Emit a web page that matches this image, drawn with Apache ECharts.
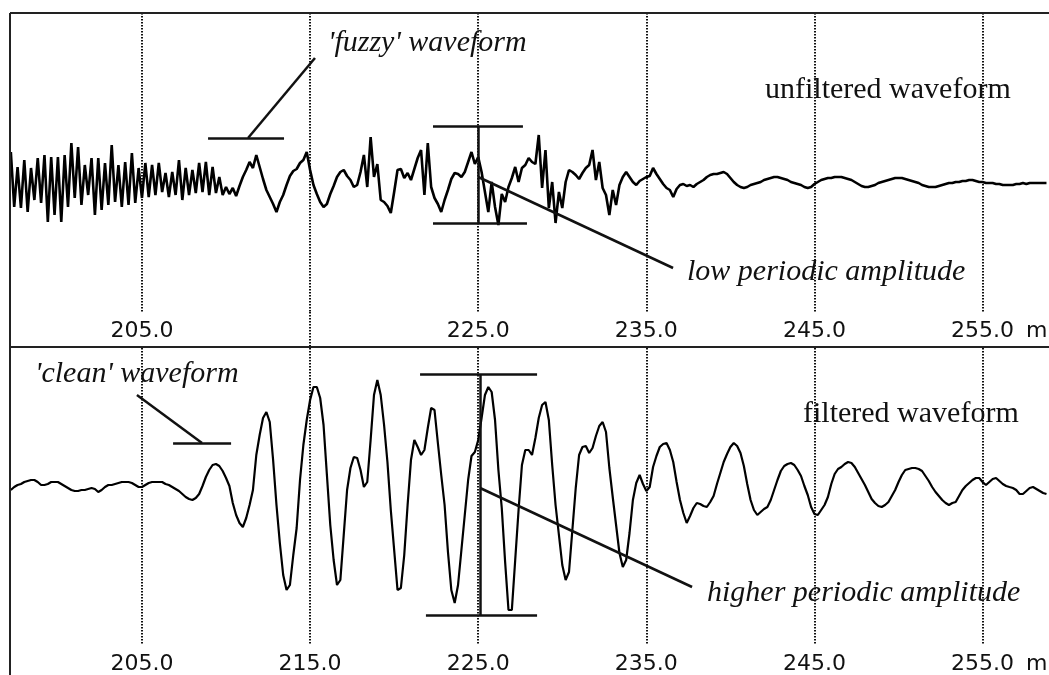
<!DOCTYPE html>
<html>
<head>
<meta charset="utf-8">
<script src="https://cdn.jsdelivr.net/npm/echarts@6/dist/echarts.min.js"></script>
<style>
html,body{margin:0;padding:0;background:#fff;}
#chart{width:1049px;height:675px;}
</style>
</head>
<body>
<div id="chart"></div>
<script>
// Distance axis (m)
const distanceMin = 197.15;
const distanceMax = 258.95;
const sampleStartM = 197.2;
const sampleStepM = 0.2;
const gridTickValues = [205, 215, 225, 235, 245, 255];
const topLabelValues = [205, 225, 235, 245, 255];
const bottomLabelValues = [205, 215, 225, 235, 245, 255];

// Unfiltered waveform amplitude
const unfilteredAmp = [
  30,-25,15,-26,22,-30,14,-18,24,-21,
  27,-40,25,-33,25,-40,27,-25,39,-16,
  35,-23,17,-13,24,-33,24,-28,19,-23,
  37,-20,17,-25,20,-23,29,-21,14,-16,
  19,-15,17,-13,19,-10,9,-15,10,-13,
  22,-18,14,-13,12,-11,19,-10,20,-13,
  15,-11,5,-13,-5,-12,-6,-14,-4,5,
  12,20,14,27,15,3,-8,-15,-22,-30,
  -20,-13,-3,6,11,13,19,22,30,12,
  -3,-12,-20,-25,-22,-12,-4,5,10,12,
  6,2,-5,-3,10,27,-5,45,5,18,
  -18,-20,-24,-31,-10,12,13,4,9,2,
  13,24,32,-13,39,-5,-16,-22,-30,-18,
  -8,3,9,8,5,10,20,30,18,25,
  10,-10,-30,0,-25,-43,-12,-20,-5,4,
  15,0,14,17,24,20,18,47,-6,32,
  -26,0,-41,-10,-26,0,12,10,7,3,
  9,14,17,32,2,20,-6,-13,-33,-8,
  -23,-3,5,10,5,0,-3,1,3,5,
  6,14,8,3,-2,-6,-8,-15,-7,-3,
  -2,-4,-3,-5,-2,0,2,5,7,8,
  8,9,10,8,4,0,-3,-5,-6,-5,
  -3,-2,-1,0,2,3,4,5,5,4,
  3,2,0,-1,-2,-3,-5,-6,-5,-2,
  0,2,3,4,4,5,5,5,4,3,
  2,0,-2,-4,-5,-5,-4,-3,-1,0,
  1,2,3,4,4,4,3,2,1,0,
  -1,-3,-4,-5,-5,-5,-4,-3,-2,-1,
  -1,0,0,1,1,2,2,1,0,0,
  -1,-1,-1,-2,-2,-3,-3,-3,-3,-2,
  -2,-1,-2,-1,-1,-1,-1,-1,-1
];

// Filtered waveform amplitude
const filteredAmp = [
  0,3,5,6,8,9,10,10,8,5,
  5,6,8,8,8,6,4,2,0,-1,
  -1,0,0,1,2,1,-2,0,3,5,
  5,6,7,8,8,8,7,5,3,3,
  5,7,8,8,8,8,6,5,3,1,
  -1,-4,-7,-9,-10,-8,-4,4,13,20,
  25,26,24,19,12,4,-13,-25,-33,-37,
  -28,-15,0,35,55,72,78,68,30,-15,
  -53,-85,-100,-95,-65,-38,10,45,70,90,
  103,103,92,65,15,-35,-70,-95,-90,-45,
  0,22,33,32,20,3,8,50,95,110,
  95,65,28,-20,-60,-100,-98,-65,-15,30,
  50,43,35,40,62,82,80,47,15,-15,
  -62,-100,-113,-95,-60,-25,10,34,38,50,
  72,95,103,98,70,20,-18,-72,-120,-120,
  -70,-20,25,40,40,35,52,72,85,88,
  70,25,-15,-45,-75,-90,-82,-40,2,35,
  43,44,37,42,54,64,68,58,22,-7,
  -35,-63,-77,-70,-43,-10,7,15,6,-1,
  3,23,34,43,46,47,40,28,8,-10,
  -23,-33,-26,-18,-13,-14,-16,-17,-12,-6,
  6,17,28,36,43,47,44,37,24,6,
  -10,-20,-25,-22,-19,-17,-10,0,10,19,
  24,26,27,25,20,14,4,-5,-17,-24,
  -25,-20,-15,-7,6,16,21,23,26,28,
  27,23,17,11,5,-2,-9,-13,-16,-17,
  -15,-12,-6,0,8,15,20,21,22,22,
  21,19,14,9,3,-2,-6,-10,-13,-15,
  -13,-12,-6,0,4,7,10,12,12,8,
  5,8,11,12,9,6,4,3,2,0,
  -4,-4,-1,2,3,1,-1,-3,-4
];

// Annotation segments in data coordinates [distance, amplitude]
const topAnnotationSegments = [
  [[208.93, 44], [213.45, 44]],
  [[211.31, 44], [215.29, 124]],
  [[222.31, 56], [227.66, 56]],
  [[222.31, -41], [227.90, -41]],
  [[225.0, 56], [225.0, -41]],
  [[225.0, 5], [236.59, -86]]
];
const bottomAnnotationSegments = [
  [[206.85, 47], [210.30, 47]],
  [[208.57, 47], [204.70, 95]],
  [[221.54, 116], [228.50, 116]],
  [[221.89, -125], [228.50, -125]],
  [[225.11, 116], [225.11, -125]],
  [[225.11, 2], [237.72, -97]]
];

const toSeries = arr => arr.map((v, i) => [+(sampleStartM + i * sampleStepM).toFixed(2), v]);
const toMarkLine = segs => segs.map(s => [{coord: s[0]}, {coord: s[1]}]);

const splitStyle = {show: true, lineStyle: {color: '#111', width: 2, type: [1.5, 1.5]}};
const labelFont = {fontFamily: 'DejaVu Sans', fontSize: 22, color: '#111'};
const markLineBase = {
  silent: true, symbol: ['none', 'none'], label: {show: false},
  lineStyle: {color: '#111', width: 2.5, type: 'solid'},
  emphasis: {disabled: true}, animation: false
};

const chart = echarts.init(document.getElementById('chart'), null, {renderer: 'canvas'});
const serifItalic = 'italic 30px "Liberation Serif"';
const serif = '30px "Liberation Serif"';
const txt = (x, y, text, font) => ({
  type: 'text', x: x, y: y, z: 100,
  style: {text: text, font: font, fill: '#111', align: 'left', verticalAlign: 'middle'}
});
const ln = (x1, y1, x2, y2) => ({
  type: 'line', z: 100, shape: {x1, y1, x2, y2}, style: {stroke: '#222', lineWidth: 2}
});
const bottomAxisName = {
  name: 'm', nameLocation: 'end', nameGap: -23,
  nameTextStyle: Object.assign({verticalAlign: 'top', align: 'left', padding: [8, 0, 0, 0]}, labelFont)
};

chart.setOption({
  animation: false,
  backgroundColor: '#fff',
  grid: [
    {left: 10, top: 13, width: 1039, height: 299, outerBoundsMode: 'none', containLabel: false},
    {left: 10, top: 312, width: 1039, height: 35, outerBoundsMode: 'none', containLabel: false},
    {left: 10, top: 348, width: 1039, height: 297, outerBoundsMode: 'none', containLabel: false}
  ],
  xAxis: [
    Object.assign({
      gridIndex: 0, type: 'value', min: distanceMin, max: distanceMax,
      axisLine: {show: false, onZero: false}, axisTick: {show: false, customValues: gridTickValues},
      splitLine: splitStyle,
      axisLabel: Object.assign({customValues: topLabelValues, formatter: v => v.toFixed(1), margin: 8}, labelFont)
    }, bottomAxisName),
    {
      gridIndex: 1, type: 'value', min: distanceMin, max: distanceMax,
      axisLine: {show: false, onZero: false}, axisTick: {show: false, customValues: [215]},
      splitLine: splitStyle, axisLabel: {show: false}
    },
    Object.assign({
      gridIndex: 2, type: 'value', min: distanceMin, max: distanceMax,
      axisLine: {show: false, onZero: false}, axisTick: {show: false, customValues: gridTickValues},
      splitLine: splitStyle,
      axisLabel: Object.assign({customValues: bottomLabelValues, formatter: v => v.toFixed(1), margin: 8}, labelFont)
    }, bottomAxisName)
  ],
  yAxis: [
    {gridIndex: 0, type: 'value', min: -130, max: 169, show: false},
    {gridIndex: 1, type: 'value', min: 0, max: 1, show: false},
    {gridIndex: 2, type: 'value', min: -155, max: 142, show: false}
  ],
  series: [
    {
      type: 'line', xAxisIndex: 0, yAxisIndex: 0, data: toSeries(unfilteredAmp),
      showSymbol: false, lineStyle: {color: '#000', width: 2.6}, silent: true,
      markLine: Object.assign({data: toMarkLine(topAnnotationSegments)}, markLineBase)
    },
    {
      type: 'line', xAxisIndex: 2, yAxisIndex: 2, data: toSeries(filteredAmp),
      showSymbol: false, lineStyle: {color: '#000', width: 2.2}, silent: true,
      markLine: Object.assign({data: toMarkLine(bottomAnnotationSegments)}, markLineBase)
    }
  ],
  graphic: [
    ln(10, 13, 1049, 13),
    ln(10, 13, 10, 675),
    ln(10, 347, 1049, 347),
    txt(328, 43, "'fuzzy' waveform", serifItalic),
    txt(765, 90, 'unfiltered waveform', serif),
    txt(687, 272, 'low periodic amplitude', serifItalic),
    txt(35, 374, "'clean' waveform", serifItalic),
    txt(803, 414, 'filtered waveform', serif),
    txt(707, 593, 'higher periodic amplitude', serifItalic)
  ]
});
</script>
</body>
</html>
